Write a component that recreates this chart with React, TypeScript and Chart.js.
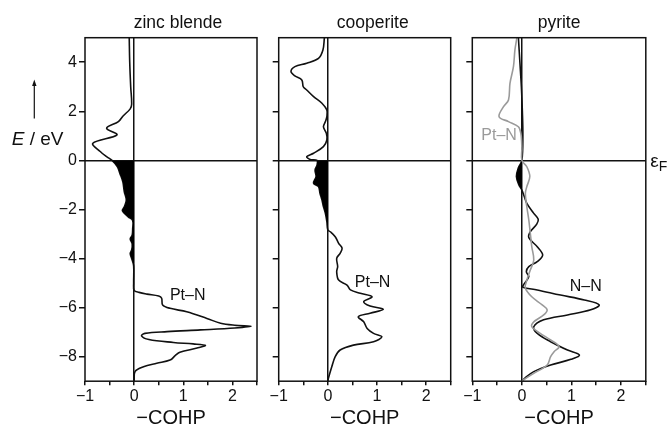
import React, { useEffect, useRef } from 'react';
import { Chart, registerables } from 'chart.js';

Chart.register(...registerables);

const FONT = '"Liberation Sans", Arial, Helvetica, sans-serif';
Chart.defaults.font.family = FONT;
Chart.defaults.color = '#111';

const W = 669;
const H = 427;

// axis ticks
const xTickValues = [-1, -0.5, 0, 0.5, 1, 1.5, 2, 2.5];
const yTickValues = [-8, -6, -4, -2, 0, 2, 4];

// zinc blende: Pt–N
const zincBlendeEnergy = [5.0, 4.0, 3.0, 2.3, 2.1, 1.8, 1.58, 1.31, 1.04, 0.7, 0.36, 0.15, 0.0, -0.26, -0.53, -0.87, -1.28, -1.61, -1.89, -2.05, -2.3, -2.45, -2.8, -3.05, -3.2, -3.4, -3.65, -3.8, -4.0, -4.3, -5.0, -5.3, -5.38, -5.45, -5.53, -5.62, -5.89, -6.03, -6.17, -6.44, -6.64, -6.72, -6.76, -6.83, -6.91, -6.98, -7.05, -7.15, -7.3, -7.42, -7.48, -7.54, -7.65, -7.82, -7.95, -8.14, -8.27, -8.41, -8.6, -9.0];
const zincBlendePtN = [-0.1, -0.09, -0.07, -0.05, -0.08, -0.23, -0.32, -0.56, -0.35, -0.84, -0.69, -0.56, -0.45, -0.34, -0.29, -0.23, -0.2, -0.16, -0.2, -0.24, -0.12, -0.03, -0.03, -0.04, -0.08, -0.04, -0.05, -0.08, -0.05, -0.01, -0.01, 0.0, 0.1, 0.26, 0.5, 0.56, 0.58, 0.73, 1.07, 1.48, 1.76, 2.05, 2.38, 2.05, 1.35, 0.67, 0.22, 0.15, 0.3, 0.8, 1.2, 1.45, 1.28, 0.93, 0.84, 0.73, 0.46, 0.19, 0.02, 0.0];

// cooperite: Pt–N
const cooperiteEnergy = [5.0, 4.5, 4.16, 3.96, 3.82, 3.62, 3.44, 3.28, 3.0, 2.87, 2.6, 2.33, 2.05, 1.78, 1.58, 1.37, 1.1, 0.83, 0.56, 0.29, 0.15, 0.04, 0.0, -0.2, -0.39, -0.66, -0.93, -1.07, -1.34, -1.61, -1.88, -2.16, -2.5, -2.84, -2.91, -3.11, -3.38, -3.58, -3.79, -3.99, -4.33, -4.54, -4.88, -5.08, -5.28, -5.42, -5.56, -5.76, -5.94, -6.07, -6.23, -6.37, -6.58, -6.85, -7.05, -7.19, -7.39, -7.53, -7.73, -8.0, -8.41, -8.89, -9.0];
const cooperitePtN = [-0.07, -0.1, -0.19, -0.43, -0.67, -0.75, -0.67, -0.53, -0.5, -0.43, -0.29, -0.12, -0.02, -0.02, -0.05, -0.09, -0.03, -0.02, -0.09, -0.29, -0.43, -0.36, -0.22, -0.22, -0.26, -0.24, -0.29, -0.19, -0.16, -0.12, -0.09, -0.05, -0.02, 0.0, 0.05, 0.15, 0.22, 0.29, 0.25, 0.18, 0.2, 0.18, 0.22, 0.39, 0.46, 0.66, 0.9, 0.73, 0.86, 1.13, 0.86, 0.62, 0.73, 0.8, 0.93, 1.1, 0.93, 0.52, 0.25, 0.15, 0.08, 0.01, 0.0];

// pyrite: N–N
const pyriteNNEnergy = [5.0, 4.0, 3.0, 2.0, 1.0, 0.0, -0.3, -0.66, -1.0, -1.21, -1.48, -1.75, -2.16, -2.4, -2.6, -2.91, -3.15, -3.52, -3.86, -4.13, -4.33, -4.54, -4.74, -5.08, -5.17, -5.28, -5.49, -5.69, -5.89, -6.09, -6.3, -6.5, -6.78, -7.05, -7.39, -7.73, -7.93, -8.11, -8.34, -8.61, -8.89, -9.0];
const pyriteNN = [-0.07, -0.04, -0.01, 0.01, 0.02, 0.0, -0.07, -0.11, -0.06, 0.0, 0.05, 0.1, 0.24, 0.33, 0.3, 0.17, 0.14, 0.31, 0.42, 0.31, 0.14, 0.09, 0.14, 0.03, 0.02, 0.31, 0.78, 1.26, 1.56, 1.39, 0.92, 0.44, 0.24, 0.31, 0.58, 0.92, 1.16, 0.99, 0.58, 0.24, 0.05, 0.0];

// pyrite: Pt–N
const pyritePtNEnergy = [5.0, 4.5, 3.82, 3.14, 2.46, 2.19, 1.78, 1.58, 1.37, 1.1, 0.5, 0.0, -0.26, -0.66, -1.07, -1.35, -1.89, -2.43, -2.97, -3.52, -4.06, -4.47, -4.88, -5.2, -5.56, -5.89, -6.09, -6.3, -6.58, -6.78, -7.05, -7.32, -7.59, -7.8, -8.0, -8.34, -8.68, -8.95, -9.0];
const pyritePtN = [-0.1, -0.14, -0.17, -0.24, -0.27, -0.37, -0.46, -0.27, -0.07, -0.02, 0.0, 0.0, 0.1, 0.16, 0.1, 0.07, 0.1, 0.14, 0.17, 0.2, 0.24, 0.17, 0.1, 0.07, 0.2, 0.41, 0.51, 0.44, 0.24, 0.2, 0.37, 0.58, 0.75, 0.65, 0.58, 0.51, 0.24, 0.03, 0.0];

const BLACK = '#111';
const GRAY = '#9a9a9a';

type Curve = { energy: number[]; cohp: number[]; color: string; fillBottom?: number };
type Label = { text: string; x: number; y: number; color: string };
type Panel = {
  title: string;
  titleShift: number;
  left: number;
  right: number;
  yAxisWidth: number;
  showYLabels: boolean;
  curves: Curve[];
  labels: Label[];
  yTitle?: boolean;
  fermi?: boolean;
};

const panels: Panel[] = [
  {
    title: 'zinc blende', titleShift: 7, left: 85, right: 257, yAxisWidth: 85, showYLabels: true,
    curves: [{ energy: zincBlendeEnergy, cohp: zincBlendePtN, color: BLACK, fillBottom: -5.3 }],
    labels: [{ text: 'Pt\u2013N', x: 1.09, y: -5.53, color: BLACK }],
    yTitle: true,
  },
  {
    title: 'cooperite', titleShift: 8, left: 278.7, right: 450.7, yAxisWidth: 10, showYLabels: false,
    curves: [{ energy: cooperiteEnergy, cohp: cooperitePtN, color: BLACK, fillBottom: -2.84 }],
    labels: [{ text: 'Pt\u2013N', x: 0.91, y: -4.98, color: BLACK }],
  },
  {
    title: 'pyrite', titleShift: 0, left: 472.3, right: 645.8, yAxisWidth: 10, showYLabels: false,
    curves: [
      { energy: pyritePtNEnergy, cohp: pyritePtN, color: GRAY },
      { energy: pyriteNNEnergy, cohp: pyriteNN, color: BLACK, fillBottom: -1.21 },
    ],
    labels: [
      { text: 'Pt\u2013N', x: -0.46, y: 0.99, color: GRAY },
      { text: 'N\u2013N', x: 1.29, y: -5.16, color: BLACK },
    ],
    fermi: true,
  },
];

const fmt = (v: number) => (v < 0 ? '\u2212' + Math.abs(v) : String(v));
const TRANSPARENT = 'rgba(0,0,0,0)';

function decorPlugin(panel: Panel, idx: number) {
  return {
    id: 'decor' + idx,
    afterDraw(chart: any) {
      const { ctx, chartArea: a, scales } = chart;
      ctx.save();
      // frame
      ctx.strokeStyle = BLACK;
      ctx.lineWidth = 1.5;
      ctx.strokeRect(a.left, a.top, a.right - a.left, a.bottom - a.top);
      // title
      ctx.fillStyle = BLACK;
      ctx.font = `17.5px ${FONT}`;
      ctx.textAlign = 'center';
      ctx.textBaseline = 'alphabetic';
      ctx.fillText(panel.title, (a.left + a.right) / 2 + panel.titleShift, 27.5);
      // curve labels
      ctx.font = `16px ${FONT}`;
      ctx.textBaseline = 'middle';
      panel.labels.forEach((l) => {
        ctx.fillStyle = l.color;
        ctx.fillText(l.text, scales.x.getPixelForValue(l.x), scales.y.getPixelForValue(l.y));
      });
      // y axis title with arrow
      if (panel.yTitle) {
        ctx.fillStyle = BLACK;
        ctx.textAlign = 'left';
        ctx.textBaseline = 'alphabetic';
        ctx.font = `italic 19px ${FONT}`;
        const x0 = 11.7;
        const base = 145;
        ctx.fillText('E', x0, base);
        const wE = ctx.measureText('E').width;
        ctx.font = `19px ${FONT}`;
        ctx.fillText(' / eV', x0 + wE, base);
        const ax = 34.3;
        ctx.strokeStyle = BLACK;
        ctx.lineWidth = 1.2;
        ctx.beginPath();
        ctx.moveTo(ax, 118.5);
        ctx.lineTo(ax, 84);
        ctx.stroke();
        ctx.beginPath();
        ctx.moveTo(ax, 79.5);
        ctx.lineTo(ax - 2.2, 86);
        ctx.lineTo(ax + 2.2, 86);
        ctx.closePath();
        ctx.fill();
      }
      if (panel.fermi) {
        const y0 = scales.y.getPixelForValue(0);
        ctx.fillStyle = BLACK;
        ctx.textAlign = 'left';
        ctx.textBaseline = 'alphabetic';
        ctx.font = `19px ${FONT}`;
        ctx.fillText('\u03b5', a.right + 4.5, y0 + 6.3);
        const we = ctx.measureText('\u03b5').width;
        ctx.font = `14px ${FONT}`;
        ctx.fillText('F', a.right + 4.5 + we, y0 + 11);
      }
      ctx.restore();
    },
  };
}

function buildChart(canvas: HTMLCanvasElement, panel: Panel, idx: number) {
  const datasets: any[] = [];
  panel.curves.forEach((c) => {
    const pts = c.energy.map((e, i) => ({ x: c.cohp[i], y: e }));
    if (c.fillBottom !== undefined) {
      const fb = c.fillBottom;
      datasets.push({
        data: pts.filter((p) => p.y <= 0 && p.y >= fb),
        borderColor: TRANSPARENT,
        borderWidth: 0,
        backgroundColor: '#000',
        fill: 'origin',
        pointRadius: 0,
        tension: 0.35,
      });
    }
    datasets.push({
      data: pts,
      borderColor: c.color,
      borderWidth: 1.6,
      backgroundColor: c.color,
      fill: false,
      pointRadius: 0,
      tension: 0.35,
    });
  });

  return new Chart(canvas, {
    type: 'line',
    data: { datasets },
    plugins: [decorPlugin(panel, idx)],
    options: {
      responsive: false,
      animation: false,
      indexAxis: 'y',
      events: [],
      layout: {
        padding: { left: panel.left - panel.yAxisWidth, right: W - panel.right, top: 37.7, bottom: 0 },
      },
      plugins: {
        legend: { display: false },
        tooltip: { enabled: false },
        title: { display: false },
      },
      scales: {
        x: {
          type: 'linear',
          position: 'bottom',
          min: -1,
          max: 2.5,
          afterBuildTicks: (s: any) => {
            s.ticks = xTickValues.map((v) => ({ value: v }));
          },
          afterFit: (s: any) => {
            s.height = H - 381.2;
          },
          ticks: {
            autoSkip: false,
            maxRotation: 0,
            padding: 2,
            color: BLACK,
            font: { size: 16 },
            callback: (v: any) => (Number.isInteger(v) ? fmt(v) : ''),
          },
          grid: {
            drawOnChartArea: true,
            color: (ctx: any) => (ctx.tick && ctx.tick.value === 0 ? BLACK : TRANSPARENT),
            tickColor: BLACK,
            tickLength: 4,
            lineWidth: 1.5,
          },
          border: { display: false },
          title: {
            display: true,
            text: '\u2212COHP',
            color: BLACK,
            font: { size: 20, lineHeight: 0.9 },
            padding: 0,
          },
        },
        y: {
          type: 'linear',
          position: 'left',
          min: -9,
          max: 5,
          afterBuildTicks: (s: any) => {
            s.ticks = yTickValues.map((v) => ({ value: v }));
          },
          afterFit: (s: any) => {
            s.width = panel.yAxisWidth;
          },
          ticks: {
            autoSkip: false,
            padding: 2,
            color: BLACK,
            font: { size: 16 },
            callback: (v: any) => (panel.showYLabels ? fmt(v) : ''),
          },
          grid: {
            drawOnChartArea: true,
            color: (ctx: any) => (ctx.tick && ctx.tick.value === 0 ? BLACK : TRANSPARENT),
            tickColor: BLACK,
            tickLength: 6,
            lineWidth: 1.5,
          },
          border: { display: false },
        },
      },
    } as any,
  });
}

export default function App() {
  const refs = [useRef<HTMLCanvasElement>(null), useRef<HTMLCanvasElement>(null), useRef<HTMLCanvasElement>(null)];

  useEffect(() => {
    const charts = panels.map((p, i) => buildChart(refs[i].current as HTMLCanvasElement, p, i));
    return () => charts.forEach((c) => c.destroy());
  }, []);

  return (
    <div style={{ position: 'fixed', left: 0, top: 0, width: W, height: H, background: '#fff', overflow: 'hidden' }}>
      {panels.map((p, i) => (
        <canvas
          key={i}
          ref={refs[i]}
          width={W}
          height={H}
          style={{ position: 'absolute', left: 0, top: 0, width: W, height: H }}
        />
      ))}
    </div>
  );
}
